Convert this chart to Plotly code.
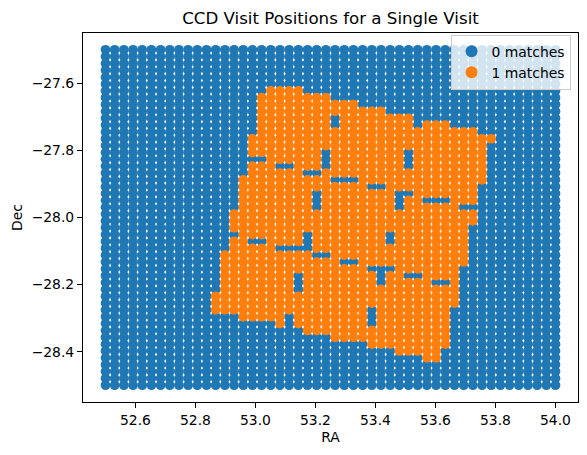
import plotly.graph_objects as go

ra_values = [52.5, 52.5306, 52.5612, 52.5918, 52.6224, 52.6531, 52.6837, 52.7143, 52.7449, 52.7755,
             52.8061, 52.8367, 52.8673, 52.898, 52.9286, 52.9592, 52.9898, 53.0204, 53.051, 53.0816,
             53.1122, 53.1429, 53.1735, 53.2041, 53.2347, 53.2653, 53.2959, 53.3265, 53.3571, 53.3878,
             53.4184, 53.449, 53.4796, 53.5102, 53.5408, 53.5714, 53.602, 53.6327, 53.6633, 53.6939,
             53.7245, 53.7551, 53.7857, 53.8163, 53.8469, 53.8776, 53.9082, 53.9388, 53.9694, 54.0]
dec_values = [-27.5, -27.5204, -27.5408, -27.5612, -27.5816, -27.602, -27.6224, -27.6429, -27.6633, -27.6837,
              -27.7041, -27.7245, -27.7449, -27.7653, -27.7857, -27.8061, -27.8265, -27.8469, -27.8673, -27.8878,
              -27.9082, -27.9286, -27.949, -27.9694, -27.9898, -28.0102, -28.0306, -28.051, -28.0714, -28.0918,
              -28.1122, -28.1327, -28.1531, -28.1735, -28.1939, -28.2143, -28.2347, -28.2551, -28.2755, -28.2959,
              -28.3163, -28.3367, -28.3571, -28.3776, -28.398, -28.4184, -28.4388, -28.4592, -28.4796, -28.5]

# per RA column index: inclusive runs of Dec row indices that have one match
matched_runs = {
    12: [(36, 38)],
    13: [(30, 38)],
    14: [(24, 26), (28, 38)],
    15: [(19, 39)],
    16: [(13, 15), (17, 27), (29, 39)],
    17: [(7, 15), (17, 27), (29, 39)],
    18: [(6, 39)],
    19: [(6, 16), (18, 28), (30, 40)],
    20: [(6, 16), (18, 28), (30, 38)],
    21: [(6, 28), (30, 32), (36, 40)],
    22: [(7, 17), (19, 26), (30, 41)],
    23: [(7, 17), (19, 20), (24, 29), (31, 41)],
    24: [(7, 14), (18, 29), (31, 41)],
    25: [(8, 9), (12, 18), (20, 42)],
    26: [(8, 18), (20, 30), (32, 42)],
    27: [(8, 18), (20, 30), (32, 42)],
    28: [(9, 42)],
    29: [(9, 19), (21, 31), (33, 37), (41, 43)],
    30: [(9, 19), (21, 31), (35, 43)],
    31: [(10, 26), (29, 31), (33, 43)],
    32: [(10, 20), (24, 44)],
    33: [(10, 14), (18, 20), (22, 32), (34, 44)],
    34: [(12, 32), (34, 44)],
    35: [(11, 21), (23, 45)],
    36: [(11, 21), (23, 33), (35, 45)],
    37: [(11, 21), (23, 33), (35, 43)],
    38: [(12, 37)],
    39: [(12, 22), (24, 31)],
    40: [(12, 22), (24, 25)],
    41: [(13, 19)],
    42: [(13, 13)],
}
series_names = ["0 matches", "1 matches"]
series_colors = ["#1f77b4", "#ff7f0e"]
x_ticks = [52.6, 52.8, 53.0, 53.2, 53.4, 53.6, 53.8, 54.0]
y_ticks = [-27.6, -27.8, -28.0, -28.2, -28.4]

matched = {(c, r) for c, runs in matched_runs.items() for a, b in runs for r in range(a, b + 1)}
x0, y0, x1, y1 = [], [], [], []
for c, ra in enumerate(ra_values):
    for r, dec in enumerate(dec_values):
        if (c, r) in matched:
            x1.append(ra); y1.append(dec)
        else:
            x0.append(ra); y0.append(dec)

fig = go.Figure()
for name, color, xs, ys in zip(series_names, series_colors, (x0, x1), (y0, y1)):
    fig.add_trace(go.Scatter(x=xs, y=ys, mode="markers", name=name,
                             marker=dict(color=color, size=9.7, line=dict(width=0))))

axis = dict(showgrid=False, zeroline=False, showline=True, mirror=True, linecolor="black", linewidth=1,
            ticks="outside", ticklen=5, tickwidth=1, tickcolor="black", tickformat=".1f",
            tickfont=dict(size=13.9, color="black"))
fig.update_layout(
    width=587, height=455, autosize=False,
    margin=dict(l=83, r=8.5, t=32.5, b=53),
    paper_bgcolor="white", plot_bgcolor="white",
    font=dict(family="DejaVu Sans", size=13.9, color="black"),
    title=dict(text="CCD Visit Positions for a Single Visit", x=330.5 / 587, xanchor="center",
               y=1 - 18 / 455, yanchor="middle", font=dict(size=16.67, color="black")),
    xaxis=dict(axis, range=[52.425, 54.075], tickvals=x_ticks,
               title=dict(text="RA", font=dict(size=13.9), standoff=5)),
    yaxis=dict(axis, range=[-28.55, -27.45], tickvals=y_ticks,
               title=dict(text="Dec", font=dict(size=13.9), standoff=5)),
    legend=dict(x=0.985, xanchor="right", y=0.9955, yanchor="top", bgcolor="rgba(255,255,255,0.8)",
                bordercolor="#cccccc", borderwidth=1, itemsizing="constant", font=dict(size=13.9),
                tracegroupgap=0),
)
fig.write_html("out.html", config={"displayModeBar": False},
               post_script="document.body.style.margin='0';document.body.style.overflow='hidden';")
